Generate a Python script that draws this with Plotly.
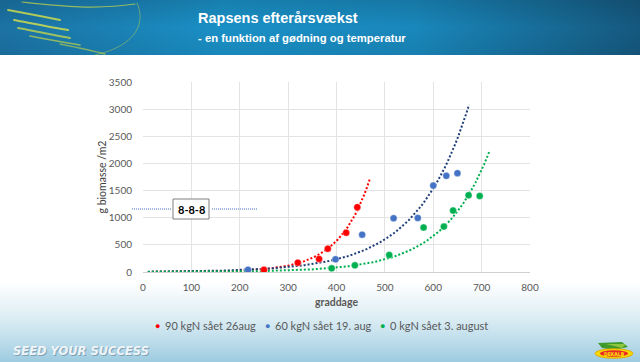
import base64
import numpy as np
import plotly.graph_objects as go

# ---------------- data ----------------
series_names = ["90 kgN sået 26aug", "60 kgN sået 19. aug", "0 kgN sået 3. august"]
red_x = [250, 320, 364, 382, 420, 443]
red_y = [40, 172, 240, 430, 725, 1194]
blue_x = [217, 398, 453, 518, 568, 600, 627, 650]
blue_y = [40, 234, 688, 990, 996, 1592, 1771, 1820]
green_x = [390, 438, 509, 580, 622, 641, 673, 696]
green_y = [68, 123, 314, 818, 836, 1131, 1415, 1402]

# exponential trendlines y = a * exp(b * x)
trend_a = [0.99, 5.46, 1.26]
trend_b = [0.0159, 0.0094, 0.01044]
trend_x0 = [10, 10, 10]
trend_x1 = [469, 674, 717]

x_ticks = [0, 100, 200, 300, 400, 500, 600, 700, 800]
y_ticks = [0, 500, 1000, 1500, 2000, 2500, 3000, 3500]

title_1 = "Rapsens efterårsvækst"
title_2 = "- en funktion af gødning og temperatur"
x_title = "graddage"
y_title = "g biomasse /m2"
box_label = "8-8-8"
slogan = "SEED YOUR SUCCESS"
brand = "DEKALB"

# ---------------- styling ----------------
W, H = 640, 362
L, R, T, B = 143, 530, 82, 272
marker_cols = ["#ff0000", "#4472c4", "#00b050"]
trend_cols = ["#ff0000", "#1f3f7a", "#00b050"]
tick_font = dict(family="Lato, Open Sans, sans-serif", size=10, color="#595959")
legend_font = dict(family="Lato, Open Sans, sans-serif", size=11, color="#595959")
head_font = "Liberation Sans, Arial, sans-serif"


def px(x):
    return (x - L) / (R - L)


def py(y):
    return (B - y) / (B - T)


def svg_uri(svg):
    return "data:image/svg+xml;base64," + base64.b64encode(svg.encode("utf-8")).decode()


header_svg = f"""<svg xmlns='http://www.w3.org/2000/svg' width='640' height='55' viewBox='0 0 640 55' preserveAspectRatio='none'>
<defs>
<linearGradient id='g' x1='0' y1='0' x2='1' y2='0'>
<stop offset='0' stop-color='#1b72a3'/>
<stop offset='0.35' stop-color='#1a90c6'/>
<stop offset='0.65' stop-color='#1987bb'/>
<stop offset='1' stop-color='#15587e'/>
</linearGradient>
<linearGradient id='v' x1='0' y1='0' x2='0' y2='1'>
<stop offset='0' stop-color='#000000' stop-opacity='0.12'/>
<stop offset='0.5' stop-color='#000000' stop-opacity='0'/>
<stop offset='1' stop-color='#000000' stop-opacity='0.06'/>
</linearGradient>
</defs>
<rect width='640' height='55' fill='url(#g)'/>
<rect width='640' height='55' fill='url(#v)'/>
<g fill='none' stroke-linecap='round'>
<path d='M22 2 C60 6 95 10 135 4' stroke='#c8d84a' stroke-width='1.2' opacity='0.7'/>
<path d='M8 10 C30 14 50 18 60 20' stroke='#d6e04a' stroke-width='1.8' opacity='0.8'/>
<path d='M14 20 C35 24 55 28 68 30' stroke='#d9e24c' stroke-width='2' opacity='0.8'/>
<path d='M18 28 C40 32 58 36 70 38' stroke='#cbd94a' stroke-width='1.8' opacity='0.75'/>
<path d='M30 36 C50 40 68 43 80 45' stroke='#c2d448' stroke-width='1.6' opacity='0.7'/>
<path d='M60 44 C75 47 90 50 105 54' stroke='#b8ce48' stroke-width='1.3' opacity='0.65'/>
<path d='M137 3 C145 20 140 45 95 55' stroke='#b6cc4a' stroke-width='0.9' opacity='0.55'/>
</g>
</svg>"""

footer_svg = """<svg xmlns='http://www.w3.org/2000/svg' width='640' height='80' viewBox='0 0 640 80' preserveAspectRatio='none'>
<defs>
<linearGradient id='f' x1='0' y1='0' x2='0' y2='1'>
<stop offset='0' stop-color='#ffffff'/>
<stop offset='0.45' stop-color='#dcedf4'/>
<stop offset='0.75' stop-color='#bcdcea'/>
<stop offset='1' stop-color='#9dcbe0'/>
</linearGradient>
</defs>
<rect width='640' height='80' fill='url(#f)'/>
</svg>"""

logo_svg = """<svg xmlns='http://www.w3.org/2000/svg' width='42' height='18' viewBox='0 0 42 18'>
<path d='M6 2 L30 1 L36 6 L22 9 L10 7 Z' fill='#3f9a2c'/>
<path d='M14 3 L34 3 L30 7 Z' fill='#8fc63f'/>
<ellipse cx='22' cy='12.5' rx='19' ry='4.8' fill='#f5d800' stroke='#e0a000' stroke-width='0.8'/>
<ellipse cx='22' cy='12.5' rx='14' ry='3.2' fill='#e8282a'/>
</svg>"""

fig = go.Figure()

# trendlines
for i in range(3):
    tx = np.linspace(trend_x0[i], trend_x1[i], 120)
    ty = trend_a[i] * np.exp(trend_b[i] * tx)
    fig.add_trace(go.Scatter(
        x=tx, y=ty, mode="lines", showlegend=False, hoverinfo="skip",
        line=dict(color=trend_cols[i], width=2, dash="2px,2px"),
    ))

# data points
for name, xs, ys, col in zip(series_names, [red_x, blue_x, green_x], [red_y, blue_y, green_y], marker_cols):
    fig.add_trace(go.Scatter(
        x=xs, y=ys, mode="markers", name=name, showlegend=False,
        marker=dict(color=col, size=7, line=dict(width=0.6, color="rgba(255,255,255,0.6)")),
    ))

images = [
    dict(source=svg_uri(header_svg), xref="paper", yref="paper", x=px(0), y=py(0),
         sizex=640 / (R - L), sizey=55 / (B - T), sizing="stretch", xanchor="left", yanchor="top", layer="below"),
    dict(source=svg_uri(footer_svg), xref="paper", yref="paper", x=px(0), y=py(282),
         sizex=640 / (R - L), sizey=80 / (B - T), sizing="stretch", xanchor="left", yanchor="top", layer="below"),
    dict(source=svg_uri(logo_svg), xref="paper", yref="paper", x=px(592), y=py(341),
         sizex=42 / (R - L), sizey=18 / (B - T), sizing="stretch", xanchor="left", yanchor="top", layer="above"),
]

annotations = [
    dict(text=f"<b>{title_1}</b>", x=px(196), y=py(18), xref="paper", yref="paper", xanchor="left", yanchor="middle",
         showarrow=False, font=dict(family=head_font, size=14.5, color="white")),
    dict(text=f"<b>{title_2}</b>", x=px(196), y=py(38), xref="paper", yref="paper", xanchor="left", yanchor="middle",
         showarrow=False, font=dict(family=head_font, size=11.3, color="white")),
    dict(text=f"<b><i>{slogan}</i></b>", x=px(11), y=py(351), xref="paper", yref="paper", xanchor="left", yanchor="middle",
         showarrow=False, font=dict(family="DejaVu Sans, sans-serif", size=11.5, color="rgba(90,120,140,0.55)"),
         xshift=1, yshift=-1),
    dict(text=f"<b><i>{slogan}</i></b>", x=px(11), y=py(351), xref="paper", yref="paper", xanchor="left", yanchor="middle",
         showarrow=False, font=dict(family="DejaVu Sans, sans-serif", size=11.5, color="#eef4f7")),
    dict(text=f"<b>{brand}</b>", x=px(614), y=py(353.5), xref="paper", yref="paper", xanchor="center", yanchor="middle",
         showarrow=False, font=dict(family="DejaVu Sans Condensed, Liberation Sans Narrow, sans-serif", size=5, color="#ffe600")),
    dict(text=f"<b>{box_label}</b>", x=px(191), y=py(209), xref="paper", yref="paper", xanchor="center", yanchor="middle",
         showarrow=False, font=dict(family="Lato, sans-serif", size=11, color="black")),
]

# legend as annotations
legend_dot_x = [157.7, 267.7, 382.7]
for name, col, dx in zip(series_names, marker_cols, legend_dot_x):
    annotations.append(dict(text="●", x=px(dx), y=py(325), xref="paper", yref="paper", xanchor="center",
                            yanchor="middle", showarrow=False, font=dict(size=9, color=col)))
    annotations.append(dict(text=name, x=px(dx + 5), y=py(325), xref="paper", yref="paper", xanchor="left",
                            yanchor="middle", showarrow=False, font=legend_font))

shapes = [
    dict(type="rect", xref="paper", yref="paper", x0=px(173), x1=px(209), y0=py(219), y1=py(199),
         line=dict(color="#7f7f7f", width=1), fillcolor="white", layer="above"),
    dict(type="line", xref="paper", yref="paper", x0=px(132), x1=px(171), y0=py(209), y1=py(209),
         line=dict(color="#4472c4", width=1, dash="1px,1px")),
    dict(type="line", xref="paper", yref="paper", x0=px(212), x1=px(258), y0=py(209), y1=py(209),
         line=dict(color="#4472c4", width=1, dash="1px,1px")),
]

fig.update_layout(
    width=W, height=H,
    margin=dict(l=L, r=W - R, t=T, b=H - B, pad=0),
    paper_bgcolor="white", plot_bgcolor="rgba(0,0,0,0)",
    showlegend=False,
    images=images, annotations=annotations, shapes=shapes,
    xaxis=dict(range=[0, 800], tickvals=x_ticks, ticktext=[str(v) for v in x_ticks],
               showgrid=True, gridcolor="#e3e3e3", gridwidth=1, zeroline=False,
               showline=True, linecolor="#d0d0d0", mirror=False,
               tickfont=tick_font, ticks="", ticklabelstandoff=6,
               title=dict(text=f"<b>{x_title}</b>", font=dict(family="Lato, sans-serif", size=10.5, color="#595959"),
                          standoff=6)),
    yaxis=dict(range=[0, 3500], tickvals=y_ticks, ticktext=[str(v) for v in y_ticks],
               showgrid=True, gridcolor="#e3e3e3", gridwidth=1, zeroline=False,
               showline=False, tickfont=tick_font, ticks="", ticklabelstandoff=10,
               title=dict(text=y_title, font=dict(family="Lato, sans-serif", size=10.5, color="#404040"),
                          standoff=0)),
)

fig.write_html("out.html", config={"displayModeBar": False},
               post_script="document.body.style.margin='0';document.body.style.overflow='hidden';")
